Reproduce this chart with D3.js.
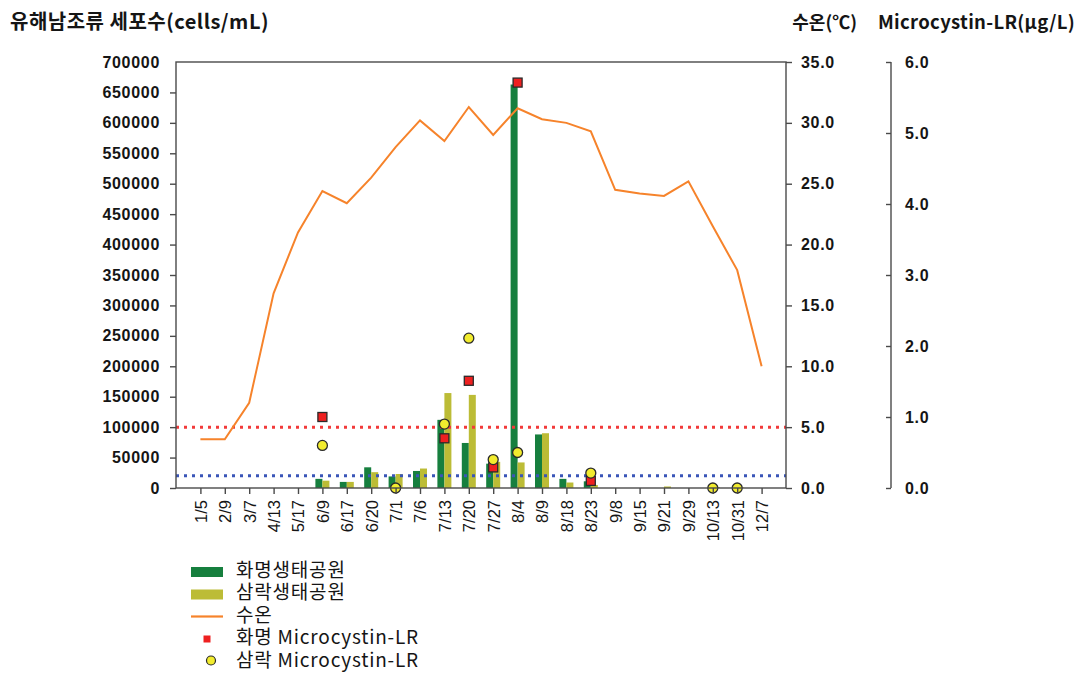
<!DOCTYPE html>
<html>
<head>
<meta charset="utf-8">
<script src="https://cdn.jsdelivr.net/npm/d3@7"></script>
<style>
  body { margin: 0; background: #fff; }
  .tick text { font-family: "Liberation Sans", Arial, sans-serif; }
</style>
</head>
<body>
<div id="chart"></div>
<script>
// sampling dates
const dates = ["1/5", "2/9", "3/7", "4/13", "5/17", "6/9", "6/17", "6/20", "7/1", "7/6", "7/13", "7/20",
  "7/27", "8/4", "8/9", "8/18", "8/23", "9/8", "9/15", "9/21", "9/29", "10/13", "10/31", "12/7"];

// harmful cyanobacteria cells/mL
const hwamyeongCells = [0, 0, 0, 0, 0, 15000, 10000, 34000, 19000, 28000, 112000, 74000,
  40000, 663000, 88000, 15000, 11000, 0, 0, 0, 0, 0, 0, 0];
const samnakCells = [0, 0, 0, 0, 0, 12000, 10000, 26000, 23000, 32000, 156000, 153000,
  43000, 42000, 90000, 9000, 5000, 0, 0, 2500, 0, 1500, 800, 0];

// water temperature (°C)
const waterTemp = [4.0, 4.0, 7.0, 16.0, 21.0, 24.4, 23.4, 25.5, 28.0, 30.2, 28.5, 31.3,
  29.0, 31.2, 30.3, 30.0, 29.3, 24.5, 24.2, 24.0, 25.2, 21.5, 17.9, 10.0];

// Microcystin-LR (µg/L), null = not measured
const hwamyeongMC = [null, null, null, null, null, 1.0, null, null, null, null, 0.70, 1.51,
  0.29, 5.71, null, null, 0.10, null, null, null, null, null, null, null];
const samnakMC = [null, null, null, null, null, 0.60, null, null, 0.0, null, 0.90, 2.11,
  0.40, 0.50, null, null, 0.21, null, null, null, null, 0.0, 0.0, null];

const cellTicks = d3.range(0, 700001, 50000);
const tempTicks = d3.range(0, 35.01, 5);
const mcTicks = d3.range(0, 6.01, 1);
const alertLevels = [100000, 20000];

const width = 1084, height = 673;
const margin = { top: 62, right: 298, bottom: 185, left: 176 };
const plotW = width - margin.left - margin.right;
const plotH = height - margin.top - margin.bottom;

const svg = d3.select("#chart").append("svg")
  .attr("width", width)
  .attr("height", height);

const x = d3.scalePoint().domain(dates).range([margin.left, margin.left + plotW]).padding(1);
const yCells = d3.scaleLinear().domain([0, 700000]).range([margin.top + plotH, margin.top]);
const yTemp = d3.scaleLinear().domain([0, 35]).range([margin.top + plotH, margin.top]);
const yMC = d3.scaleLinear().domain([0, 6]).range([margin.top + plotH, margin.top]);

const axisColor = "#4a4a4a";
const bw = 7;

// bars
dates.forEach((d, i) => {
  if (hwamyeongCells[i] > 0) {
    svg.append("rect")
      .attr("x", x(d) - bw).attr("width", bw)
      .attr("y", yCells(hwamyeongCells[i]))
      .attr("height", yCells(0) - yCells(hwamyeongCells[i]))
      .attr("fill", "#167f3e");
  }
  if (samnakCells[i] > 0) {
    svg.append("rect")
      .attr("x", x(d)).attr("width", bw)
      .attr("y", yCells(samnakCells[i]))
      .attr("height", yCells(0) - yCells(samnakCells[i]))
      .attr("fill", "#bcbc36");
  }
});

// alert level dotted lines
svg.selectAll(".alert")
  .data(alertLevels)
  .enter()
  .append("line")
  .attr("x1", margin.left).attr("x2", margin.left + plotW)
  .attr("y1", (d) => yCells(d)).attr("y2", (d) => yCells(d))
  .style("stroke", (d, i) => (i === 0 ? "#f23a3a" : "#3a55b8"))
  .style("stroke-width", 3)
  .style("stroke-dasharray", "3,5");

// water temperature line
const line = d3.line()
  .x((d, i) => x(dates[i]))
  .y((d) => yTemp(d));

svg.append("path")
  .datum(waterTemp)
  .attr("d", line)
  .attr("fill", "none")
  .style("stroke", "#f6832b")
  .style("stroke-width", 2);

// microcystin markers
const sq = 9;
dates.forEach((d, i) => {
  if (hwamyeongMC[i] != null) {
    svg.append("rect")
      .attr("x", x(d) - sq / 2).attr("y", yMC(hwamyeongMC[i]) - sq / 2)
      .attr("width", sq).attr("height", sq)
      .attr("fill", "#ee2020")
      .style("stroke", "#2a2a2a")
      .style("stroke-width", 1.3);
  }
});
dates.forEach((d, i) => {
  if (samnakMC[i] != null) {
    svg.append("circle")
      .attr("cx", x(d)).attr("cy", yMC(samnakMC[i]))
      .attr("r", 5)
      .attr("fill", "#f2ec2e")
      .style("stroke", "#2a2a2a")
      .style("stroke-width", 1.3);
  }
});

// frame
svg.append("rect")
  .attr("x", margin.left).attr("y", margin.top)
  .attr("width", plotW).attr("height", plotH)
  .attr("fill", "none")
  .style("stroke", axisColor)
  .style("stroke-width", 1.4);

function styleAxis(g, size) {
  g.select(".domain").remove();
  g.selectAll(".tick line").style("stroke", axisColor).style("stroke-width", 1.4);
  g.selectAll(".tick text")
    .style("font-size", size + "px")
    .style("fill", "#151515");
}

// left axis
const gLeft = svg.append("g")
  .attr("transform", `translate(${margin.left},0)`)
  .call(d3.axisLeft(yCells).tickValues(cellTicks).tickSize(6).tickPadding(10).tickFormat(d3.format("d")));
styleAxis(gLeft, 16);
gLeft.selectAll(".tick text").style("font-weight", "bold").style("letter-spacing", "0.7px");
gLeft.selectAll(".tick line").filter((d) => d === 700000).remove();

// right axis (water temperature)
const gRight = svg.append("g")
  .attr("transform", `translate(${margin.left + plotW},0)`)
  .call(d3.axisRight(yTemp).tickValues(tempTicks).tickSize(6).tickPadding(9).tickFormat(d3.format(".1f")));
styleAxis(gRight, 16);
gRight.selectAll(".tick text").style("font-weight", "bold").style("letter-spacing", "0.7px");

// third axis (microcystin)
const mcX = 891;
const gMC = svg.append("g")
  .attr("transform", `translate(${mcX},0)`)
  .call(d3.axisRight(yMC).tickValues(mcTicks).tickSizeInner(-5).tickSizeOuter(0).tickPadding(14).tickFormat(d3.format(".1f")));
gMC.select(".domain").remove();
gMC.selectAll(".tick line").style("stroke", axisColor).style("stroke-width", 1.4);
gMC.selectAll(".tick text").style("font-size", "16px").style("font-weight", "bold")
  .style("letter-spacing", "0.7px").style("fill", "#151515");
svg.append("line")
  .attr("x1", mcX).attr("x2", mcX)
  .attr("y1", yMC(6)).attr("y2", yMC(0))
  .style("stroke", axisColor).style("stroke-width", 1.4);

// bottom axis
const gBottom = svg.append("g")
  .attr("transform", `translate(0,${margin.top + plotH})`)
  .call(d3.axisBottom(x).tickSize(6).tickPadding(0));
gBottom.select(".domain").remove();
gBottom.selectAll(".tick line").style("stroke", axisColor).style("stroke-width", 1.4);
gBottom.selectAll(".tick text")
  .style("font-size", "16.5px")
  .style("fill", "#151515")
  .attr("text-anchor", "end")
  .attr("transform", "rotate(-90)")
  .attr("x", -12)
  .attr("y", 0)
  .attr("dy", "0.36em");

// titles
const titleFont = "'Noto Sans CJK KR', 'Noto Sans', sans-serif";
svg.append("text")
  .attr("x", 10).attr("y", 29)
  .style("font-family", titleFont).style("font-size", "20px").style("font-weight", "bold")
  .style("letter-spacing", "0.5px")
  .style("fill", "#151515")
  .text("유해남조류 세포수(cells/mL)");
svg.append("text")
  .attr("x", 857).attr("y", 29)
  .attr("text-anchor", "end")
  .style("font-family", titleFont).style("font-size", "18px").style("font-weight", "bold")
  .style("fill", "#151515")
  .text("수온(℃)");
svg.append("text")
  .attr("x", 1075).attr("y", 29)
  .attr("text-anchor", "end")
  .style("font-family", titleFont).style("font-size", "18.5px").style("font-weight", "bold")
  .style("letter-spacing", "0.3px")
  .style("fill", "#151515")
  .text("Microcystin-LR(μg/L)");

// legend
const legendItems = ["화명생태공원", "삼락생태공원", "수온", "화명 Microcystin-LR", "삼락 Microcystin-LR"];
const legend = svg.append("g").attr("transform", "translate(191,570)");
legendItems.forEach((name, i) => {
  const row = legend.append("g").attr("transform", `translate(0,${i * 22.5})`);
  if (i === 0 || i === 1) {
    row.append("rect")
      .attr("x", 0).attr("y", -3).attr("width", 32).attr("height", 10)
      .attr("fill", i === 0 ? "#167f3e" : "#bcbc36");
  } else if (i === 2) {
    row.append("line")
      .attr("x1", 0).attr("x2", 32).attr("y1", 1.5).attr("y2", 1.5)
      .style("stroke", "#f6832b").style("stroke-width", 2.2);
  } else if (i === 3) {
    row.append("rect")
      .attr("x", 16 - 3.5).attr("y", -2).attr("width", 7).attr("height", 7)
      .attr("fill", "#ee2020");
  } else {
    row.append("circle")
      .attr("cx", 20).attr("cy", 0.5).attr("r", 4.5)
      .attr("fill", "#f2ec2e")
      .style("stroke", "#2a2a2a").style("stroke-width", 1.2);
  }
  row.append("text")
    .attr("x", 45).attr("y", 0).attr("dy", "0.35em")
    .style("font-family", titleFont).style("font-size", "19px")
    .style("letter-spacing", "0.8px")
    .style("fill", "#151515")
    .text(name);
});
</script>
</body>
</html>
